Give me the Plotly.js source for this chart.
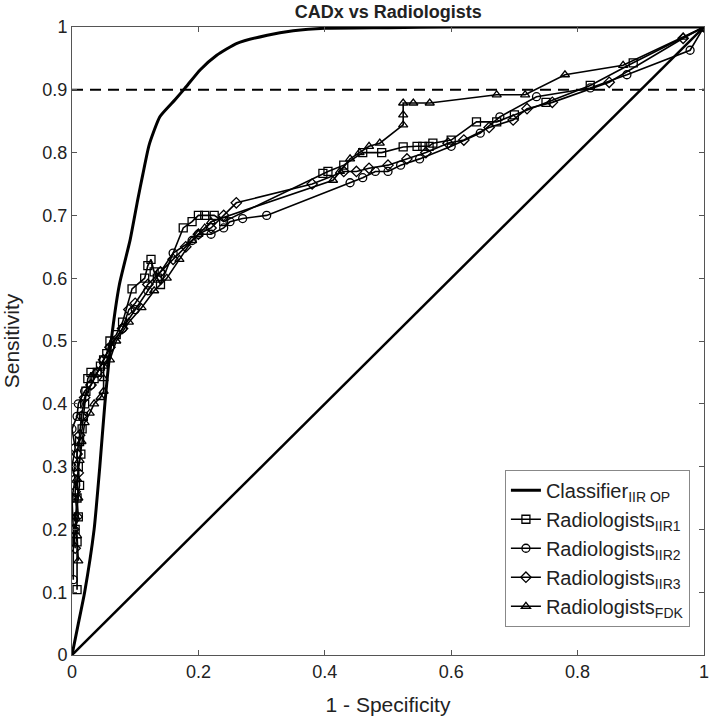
<!DOCTYPE html>
<html>
<head>
<meta charset="utf-8">
<script src="https://cdn.plot.ly/plotly-3.0.1.min.js"></script>
<style>html,body{margin:0;padding:0;background:#fff;}#chart{width:709px;height:722px;}</style>
</head>
<body>
<div id="chart"></div>
<script>
// Classifier ROC curve
const clsX = [0, 0.01, 0.02, 0.035, 0.044, 0.052, 0.062, 0.075, 0.092, 0.104, 0.112, 0.122, 0.139, 0.163, 0.179, 0.203, 0.229, 0.261, 0.309, 0.35, 0.40, 0.5, 0.6, 0.8, 1];
const clsY = [0, 0.05, 0.1, 0.2, 0.3, 0.4, 0.5, 0.59, 0.661, 0.725, 0.765, 0.812, 0.857, 0.884, 0.903, 0.932, 0.955, 0.974, 0.987, 0.994, 0.998, 0.999, 1, 1, 1];

// Radiologists IIR1 (squares)
const r1X = [0.008, 0.008, 0.005, 0.01, 0.008, 0.012, 0.01, 0.014, 0.012, 0.016, 0.018, 0.02, 0.022, 0.025, 0.03, 0.035, 0.04, 0.045, 0.05, 0.055, 0.06, 0.07, 0.08, 0.095, 0.115, 0.12, 0.125, 0.13, 0.135, 0.14, 0.176, 0.19, 0.2, 0.21, 0.225, 0.24, 0.397, 0.405, 0.43, 0.46, 0.49, 0.524, 0.546, 0.555, 0.565, 0.571, 0.6, 0.64, 0.672, 0.7, 0.75, 0.82, 0.888, 1];
const r1Y = [0.104, 0.18, 0.2, 0.22, 0.25, 0.27, 0.3, 0.32, 0.34, 0.36, 0.38, 0.4, 0.42, 0.44, 0.45, 0.44, 0.45, 0.46, 0.47, 0.48, 0.5, 0.51, 0.53, 0.583, 0.6, 0.62, 0.63, 0.61, 0.6, 0.59, 0.68, 0.69, 0.7, 0.7, 0.7, 0.69, 0.767, 0.77, 0.78, 0.8, 0.8, 0.809, 0.81, 0.81, 0.81, 0.815, 0.82, 0.849, 0.849, 0.86, 0.88, 0.907, 0.943, 1];

// Radiologists IIR2 (circles)
const r2X = [0.002, 0.002, 0.0, 0.005, 0.0, 0.005, 0.0, 0.008, 0.01, 0.02, 0.03, 0.04, 0.05, 0.06, 0.08, 0.1, 0.12, 0.14, 0.16, 0.19, 0.2, 0.22, 0.24, 0.25, 0.27, 0.308, 0.44, 0.46, 0.48, 0.5, 0.52, 0.55, 0.6, 0.646, 0.677, 0.735, 0.82, 0.878, 0.978, 1];
const r2Y = [0.12, 0.2, 0.25, 0.28, 0.3, 0.33, 0.36, 0.38, 0.4, 0.42, 0.43, 0.45, 0.47, 0.49, 0.52, 0.55, 0.58, 0.61, 0.64, 0.66, 0.67, 0.67, 0.68, 0.69, 0.695, 0.70, 0.752, 0.76, 0.77, 0.77, 0.78, 0.79, 0.81, 0.831, 0.857, 0.889, 0.903, 0.924, 0.963, 1];

// Radiologists IIR3 (diamonds)
const r3X = [0.005, 0.003, 0.008, 0.005, 0.01, 0.008, 0.012, 0.015, 0.02, 0.03, 0.04, 0.05, 0.06, 0.08, 0.09, 0.1, 0.12, 0.14, 0.16, 0.18, 0.2, 0.22, 0.24, 0.26, 0.38, 0.43, 0.45, 0.47, 0.5, 0.53, 0.56, 0.595, 0.62, 0.66, 0.698, 0.72, 0.76, 0.85, 0.967, 1];
const r3Y = [0.17, 0.2, 0.22, 0.26, 0.29, 0.32, 0.35, 0.38, 0.41, 0.43, 0.45, 0.47, 0.49, 0.52, 0.55, 0.56, 0.59, 0.61, 0.63, 0.65, 0.67, 0.68, 0.70, 0.72, 0.75, 0.77, 0.77, 0.775, 0.78, 0.79, 0.80, 0.815, 0.82, 0.84, 0.852, 0.87, 0.88, 0.912, 0.982, 1];

// Radiologists FDK (triangles)
const fdkX = [0.01, 0.008, 0.005, 0.01, 0.008, 0.012, 0.015, 0.02, 0.028, 0.035, 0.045, 0.05, 0.05, 0.05, 0.06, 0.07, 0.09, 0.11, 0.13, 0.15, 0.17, 0.19, 0.2, 0.21, 0.22, 0.413, 0.424, 0.44, 0.455, 0.47, 0.487, 0.524, 0.524, 0.524, 0.54, 0.566, 0.672, 0.717, 0.78, 0.872, 0.967, 1];
const fdkY = [0.15, 0.19, 0.22, 0.25, 0.28, 0.31, 0.34, 0.37, 0.385, 0.4, 0.41, 0.42, 0.44, 0.46, 0.47, 0.5, 0.53, 0.553, 0.58, 0.6, 0.63, 0.66, 0.67, 0.68, 0.69, 0.756, 0.77, 0.79, 0.80, 0.81, 0.815, 0.844, 0.86, 0.879, 0.879, 0.879, 0.892, 0.892, 0.924, 0.939, 0.984, 1];

// Reference lines
const diagX = [0, 1];
const diagY = [0, 1];
const thrX = [0, 1];
const thrY = [0.9, 0.9];

const legendNames = ['Classifier<sub>IIR OP</sub>', 'Radiologists<sub>IIR1</sub>', 'Radiologists<sub>IIR2</sub>', 'Radiologists<sub>IIR3</sub>', 'Radiologists<sub>FDK</sub>'];

function radTrace(x, y, name, symbol) {
  return {
    x: x, y: y, name: name, type: 'scatter', mode: 'lines+markers',
    line: {color: '#000', width: 1.6},
    marker: {symbol: symbol, size: 8, color: '#000', line: {color: '#000', width: 1.3}}
  };
}

const traces = [
  {x: diagX, y: diagY, type: 'scatter', mode: 'lines', line: {color: '#000', width: 2.5}, showlegend: false, hoverinfo: 'skip'},
  {x: thrX, y: thrY, type: 'scatter', mode: 'lines', line: {color: '#000', width: 2, dash: '11px,7px'}, showlegend: false, hoverinfo: 'skip'},
  {x: clsX, y: clsY, name: legendNames[0], type: 'scatter', mode: 'lines', line: {color: '#000', width: 3, shape: 'spline', smoothing: 0.5}},
  radTrace(r1X, r1Y, legendNames[1], 'square-open'),
  radTrace(r2X, r2Y, legendNames[2], 'circle-open'),
  radTrace(r3X, r3Y, legendNames[3], 'diamond-open'),
  radTrace(fdkX, fdkY, legendNames[4], 'triangle-up-open')
];

const axisCommon = {
  range: [0, 1], showgrid: false, zeroline: false, automargin: false,
  showline: true, linecolor: '#555', linewidth: 1, mirror: 'ticks',
  ticks: 'inside', ticklen: 5, tickcolor: '#555', ticklabeloverflow: 'allow',
  tickfont: {family: 'Liberation Sans, Arial, sans-serif', size: 18, color: '#222'}
};

const layout = {
  width: 709, height: 722,
  margin: {l: 72, r: 5, t: 27, b: 67},
  paper_bgcolor: '#fff', plot_bgcolor: '#fff',
  font: {family: 'Liberation Sans, Arial, sans-serif', color: '#222'},
  title: {text: '<b>CADx vs Radiologists</b>', x: 0.5475, xanchor: 'center', y: 0.993, yanchor: 'top',
          font: {family: 'Liberation Sans, Arial, sans-serif', size: 18, color: '#222'}},
  xaxis: Object.assign({}, axisCommon, {
    tickvals: [0, 0.2, 0.4, 0.6, 0.8, 1], ticktext: ['0', '0.2', '0.4', '0.6', '0.8', '1'],
    title: {text: '1 - Specificity', font: {size: 21, color: '#222'}, standoff: 16}
  }),
  yaxis: Object.assign({}, axisCommon, {
    tickvals: [0, 0.1, 0.2, 0.3, 0.4, 0.5, 0.6, 0.7, 0.8, 0.9, 1],
    ticktext: ['0', '0.1', '0.2', '0.3', '0.4', '0.5', '0.6', '0.7', '0.8', '0.9', '1'],
    title: {text: 'Sensitivity', font: {size: 21, color: '#222'}, standoff: 17}
  }),
  showlegend: true,
  legend: {x: 0.685, xanchor: 'left', y: 0.295, yanchor: 'top',
           bgcolor: '#fff', bordercolor: '#888', borderwidth: 1,
           font: {family: 'Liberation Sans, Arial, sans-serif', size: 20, color: '#222'},
           tracegroupgap: 0}
};

Plotly.newPlot('chart', traces, layout, {displayModeBar: false, staticPlot: true});
</script>
</body>
</html>
